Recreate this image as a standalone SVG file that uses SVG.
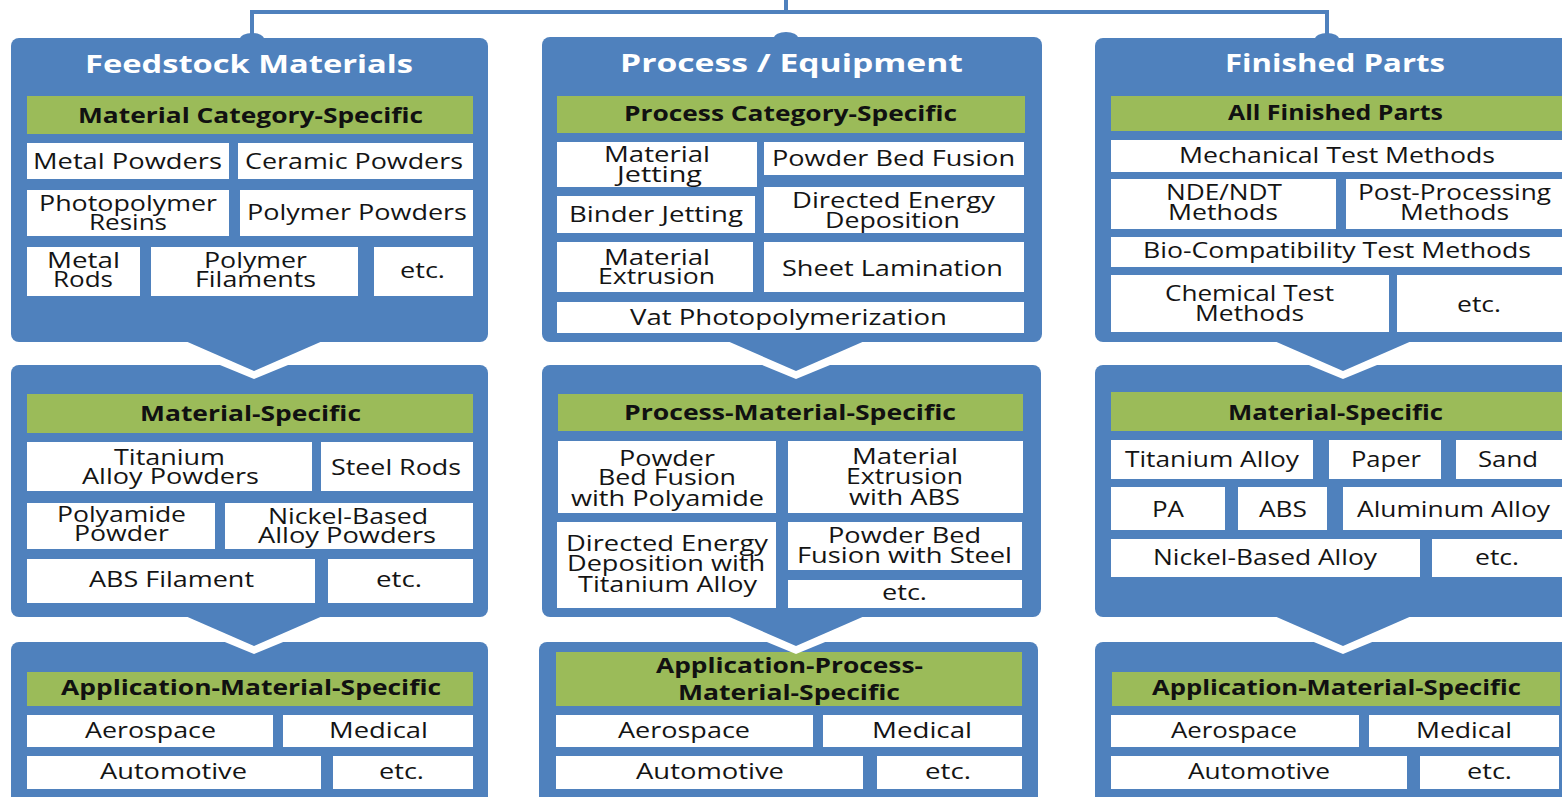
<svg xmlns="http://www.w3.org/2000/svg" width="1562" height="797" viewBox="0 0 1562 797">
<style>
.pn{fill:#4F81BD}
.hd{fill:#9BBB59}
.bx{fill:#FFFFFF}
.gap{fill:#FFFFFF}
.t{font-family:"Open Sans","DejaVu Sans",sans-serif;font-size:21px;fill:#141414}
.h{font-family:"Open Sans","DejaVu Sans",sans-serif;font-size:22px;font-weight:700;fill:#111111}
.ti{font-family:"Open Sans","DejaVu Sans",sans-serif;font-size:25px;font-weight:700;fill:#FFFFFF}
.ln{fill:none;stroke:#4F81BD;stroke-width:4}
</style>
<rect width="1562" height="797" fill="#FFFFFF"/>

<g id="connectors">
<path class="ln" d="M786,0 V12 M252,40 V12 H1327 V40"/>
<ellipse cx="252" cy="39" rx="12" ry="6" class="pn"/>
<ellipse cx="786" cy="38" rx="12" ry="6" class="pn"/>
<ellipse cx="1327" cy="39" rx="12" ry="6" class="pn"/>
</g>

<!-- Panel A1 -->
<g id="feedstock-category">
<rect class="pn" x="11" y="38" width="477" height="304" rx="8"/>
<text class="ti" x="85" y="73" textLength="328" lengthAdjust="spacingAndGlyphs">Feedstock Materials</text>
<rect class="hd" x="27" y="96" width="446" height="38"/>
<text class="h" x="78" y="123" textLength="345" lengthAdjust="spacingAndGlyphs">Material Category-Specific</text>
<rect class="bx" x="27" y="143" width="202" height="36"/>
<text class="t" x="33" y="169" textLength="189" lengthAdjust="spacingAndGlyphs">Metal Powders</text>
<rect class="bx" x="238" y="143" width="235" height="36"/>
<text class="t" x="245" y="169" textLength="218" lengthAdjust="spacingAndGlyphs">Ceramic Powders</text>
<rect class="bx" x="27" y="190" width="202" height="46"/>
<text class="t" x="39" y="211" textLength="178" lengthAdjust="spacingAndGlyphs">Photopolymer</text>
<text class="t" x="89" y="230" textLength="78" lengthAdjust="spacingAndGlyphs">Resins</text>
<rect class="bx" x="240" y="190" width="233" height="46"/>
<text class="t" x="247" y="220" textLength="220" lengthAdjust="spacingAndGlyphs">Polymer Powders</text>
<rect class="bx" x="27" y="247" width="113" height="49"/>
<text class="t" x="47" y="268" textLength="73" lengthAdjust="spacingAndGlyphs">Metal</text>
<text class="t" x="53" y="287" textLength="60" lengthAdjust="spacingAndGlyphs">Rods</text>
<rect class="bx" x="151" y="247" width="207" height="49"/>
<text class="t" x="204" y="268" textLength="103" lengthAdjust="spacingAndGlyphs">Polymer</text>
<text class="t" x="195" y="287" textLength="121" lengthAdjust="spacingAndGlyphs">Filaments</text>
<rect class="bx" x="374" y="247" width="99" height="49"/>
<text class="t" x="400" y="278" textLength="45" lengthAdjust="spacingAndGlyphs">etc.</text>
</g>

<!-- Panel B1 -->
<g id="process-category">
<rect class="pn" x="542" y="37" width="500" height="305" rx="8"/>
<text class="ti" x="620" y="72" textLength="343" lengthAdjust="spacingAndGlyphs">Process / Equipment</text>
<rect class="hd" x="557" y="96" width="468" height="37"/>
<text class="h" x="624" y="121" textLength="333" lengthAdjust="spacingAndGlyphs">Process Category-Specific</text>
<rect class="bx" x="557" y="142" width="200" height="45"/>
<text class="t" x="604" y="162" textLength="106" lengthAdjust="spacingAndGlyphs">Material</text>
<text class="t" x="617" y="182" textLength="85" lengthAdjust="spacingAndGlyphs">Jetting</text>
<rect class="bx" x="764" y="142" width="260" height="33"/>
<text class="t" x="772" y="166" textLength="243" lengthAdjust="spacingAndGlyphs">Powder Bed Fusion</text>
<rect class="bx" x="557" y="196" width="198" height="37"/>
<text class="t" x="569" y="222" textLength="174" lengthAdjust="spacingAndGlyphs">Binder Jetting</text>
<rect class="bx" x="764" y="187" width="260" height="46"/>
<text class="t" x="792" y="208" textLength="203" lengthAdjust="spacingAndGlyphs">Directed Energy</text>
<text class="t" x="825" y="228" textLength="135" lengthAdjust="spacingAndGlyphs">Deposition</text>
<rect class="bx" x="557" y="242" width="196" height="50"/>
<text class="t" x="604" y="265" textLength="106" lengthAdjust="spacingAndGlyphs">Material</text>
<text class="t" x="598" y="284" textLength="117" lengthAdjust="spacingAndGlyphs">Extrusion</text>
<rect class="bx" x="764" y="242" width="260" height="50"/>
<text class="t" x="782" y="276" textLength="221" lengthAdjust="spacingAndGlyphs">Sheet Lamination</text>
<rect class="bx" x="557" y="302" width="467" height="31"/>
<text class="t" x="630" y="325" textLength="317" lengthAdjust="spacingAndGlyphs">Vat Photopolymerization</text>
</g>

<!-- Panel C1 -->
<g id="finished-all">
<rect class="pn" x="1095" y="38" width="480" height="304" rx="8"/>
<text class="ti" x="1225" y="72" textLength="220" lengthAdjust="spacingAndGlyphs">Finished Parts</text>
<rect class="hd" x="1111" y="96" width="460" height="35"/>
<text class="h" x="1228" y="120" textLength="215" lengthAdjust="spacingAndGlyphs">All Finished Parts</text>
<rect class="bx" x="1111" y="140" width="460" height="32"/>
<text class="t" x="1179" y="163" textLength="316" lengthAdjust="spacingAndGlyphs">Mechanical Test Methods</text>
<rect class="bx" x="1111" y="179" width="225" height="50"/>
<text class="t" x="1166" y="200" textLength="116" lengthAdjust="spacingAndGlyphs">NDE/NDT</text>
<text class="t" x="1168" y="220" textLength="110" lengthAdjust="spacingAndGlyphs">Methods</text>
<rect class="bx" x="1346" y="179" width="225" height="50"/>
<text class="t" x="1358" y="200" textLength="193" lengthAdjust="spacingAndGlyphs">Post-Processing</text>
<text class="t" x="1400" y="220" textLength="109" lengthAdjust="spacingAndGlyphs">Methods</text>
<rect class="bx" x="1111" y="237" width="460" height="30"/>
<text class="t" x="1143" y="258" textLength="388" lengthAdjust="spacingAndGlyphs">Bio-Compatibility Test Methods</text>
<rect class="bx" x="1111" y="275" width="278" height="57"/>
<text class="t" x="1165" y="301" textLength="169" lengthAdjust="spacingAndGlyphs">Chemical Test</text>
<text class="t" x="1195" y="321" textLength="109" lengthAdjust="spacingAndGlyphs">Methods</text>
<rect class="bx" x="1397" y="275" width="175" height="57"/>
<text class="t" x="1457" y="312" textLength="44" lengthAdjust="spacingAndGlyphs">etc.</text>
</g>

<!-- Panel A2 -->
<g id="feedstock-material">
<rect class="pn" x="11" y="365" width="477" height="252" rx="8"/>
<rect class="hd" x="27" y="394" width="446" height="39"/>
<text class="h" x="140" y="421" textLength="221" lengthAdjust="spacingAndGlyphs">Material-Specific</text>
<rect class="bx" x="27" y="442" width="285" height="49"/>
<text class="t" x="114" y="465" textLength="111" lengthAdjust="spacingAndGlyphs">Titanium</text>
<text class="t" x="82" y="484" textLength="177" lengthAdjust="spacingAndGlyphs">Alloy Powders</text>
<rect class="bx" x="321" y="442" width="152" height="49"/>
<text class="t" x="331" y="475" textLength="130" lengthAdjust="spacingAndGlyphs">Steel Rods</text>
<rect class="bx" x="27" y="503" width="188" height="46"/>
<text class="t" x="57" y="522" textLength="129" lengthAdjust="spacingAndGlyphs">Polyamide</text>
<text class="t" x="74" y="541" textLength="95" lengthAdjust="spacingAndGlyphs">Powder</text>
<rect class="bx" x="225" y="503" width="248" height="46"/>
<text class="t" x="268" y="524" textLength="160" lengthAdjust="spacingAndGlyphs">Nickel-Based</text>
<text class="t" x="258" y="543" textLength="178" lengthAdjust="spacingAndGlyphs">Alloy Powders</text>
<rect class="bx" x="27" y="559" width="288" height="44"/>
<text class="t" x="89" y="587" textLength="165" lengthAdjust="spacingAndGlyphs">ABS Filament</text>
<rect class="bx" x="328" y="559" width="145" height="44"/>
<text class="t" x="376" y="587" textLength="46" lengthAdjust="spacingAndGlyphs">etc.</text>
</g>

<!-- Panel B2 -->
<g id="process-material">
<rect class="pn" x="542" y="365" width="499" height="252" rx="8"/>
<rect class="hd" x="558" y="394" width="465" height="37"/>
<text class="h" x="624" y="420" textLength="332" lengthAdjust="spacingAndGlyphs">Process-Material-Specific</text>
<rect class="bx" x="558" y="441" width="218" height="72"/>
<text class="t" x="619" y="466" textLength="96" lengthAdjust="spacingAndGlyphs">Powder</text>
<text class="t" x="598" y="485" textLength="138" lengthAdjust="spacingAndGlyphs">Bed Fusion</text>
<text class="t" x="571" y="506" textLength="193" lengthAdjust="spacingAndGlyphs">with Polyamide</text>
<rect class="bx" x="788" y="441" width="235" height="72"/>
<text class="t" x="852" y="464" textLength="106" lengthAdjust="spacingAndGlyphs">Material</text>
<text class="t" x="846" y="484" textLength="117" lengthAdjust="spacingAndGlyphs">Extrusion</text>
<text class="t" x="849" y="505" textLength="111" lengthAdjust="spacingAndGlyphs">with ABS</text>
<rect class="bx" x="557" y="522" width="219" height="86"/>
<text class="t" x="566" y="551" textLength="202" lengthAdjust="spacingAndGlyphs">Directed Energy</text>
<text class="t" x="567" y="571" textLength="198" lengthAdjust="spacingAndGlyphs">Deposition with</text>
<text class="t" x="578" y="592" textLength="179" lengthAdjust="spacingAndGlyphs">Titanium Alloy</text>
<rect class="bx" x="788" y="522" width="234" height="48"/>
<text class="t" x="828" y="543" textLength="153" lengthAdjust="spacingAndGlyphs">Powder Bed</text>
<text class="t" x="797" y="563" textLength="215" lengthAdjust="spacingAndGlyphs">Fusion with Steel</text>
<rect class="bx" x="788" y="580" width="234" height="28"/>
<text class="t" x="882" y="600" textLength="45" lengthAdjust="spacingAndGlyphs">etc.</text>
</g>

<!-- Panel C2 -->
<g id="finished-material">
<rect class="pn" x="1095" y="365" width="480" height="252" rx="8"/>
<rect class="hd" x="1111" y="392" width="460" height="39"/>
<text class="h" x="1228" y="420" textLength="215" lengthAdjust="spacingAndGlyphs">Material-Specific</text>
<rect class="bx" x="1111" y="440" width="202" height="39"/>
<text class="t" x="1125" y="467" textLength="174" lengthAdjust="spacingAndGlyphs">Titanium Alloy</text>
<rect class="bx" x="1329" y="440" width="112" height="39"/>
<text class="t" x="1351" y="467" textLength="70" lengthAdjust="spacingAndGlyphs">Paper</text>
<rect class="bx" x="1456" y="440" width="120" height="39"/>
<text class="t" x="1478" y="467" textLength="60" lengthAdjust="spacingAndGlyphs">Sand</text>
<rect class="bx" x="1111" y="487" width="114" height="43"/>
<text class="t" x="1152" y="517" textLength="32" lengthAdjust="spacingAndGlyphs">PA</text>
<rect class="bx" x="1238" y="487" width="89" height="43"/>
<text class="t" x="1259" y="517" textLength="48" lengthAdjust="spacingAndGlyphs">ABS</text>
<rect class="bx" x="1343" y="487" width="233" height="43"/>
<text class="t" x="1357" y="517" textLength="193" lengthAdjust="spacingAndGlyphs">Aluminum Alloy</text>
<rect class="bx" x="1111" y="539" width="309" height="38"/>
<text class="t" x="1153" y="565" textLength="224" lengthAdjust="spacingAndGlyphs">Nickel-Based Alloy</text>
<rect class="bx" x="1432" y="539" width="144" height="38"/>
<text class="t" x="1475" y="565" textLength="44" lengthAdjust="spacingAndGlyphs">etc.</text>
</g>

<!-- Panel A3 -->
<g id="feedstock-application">
<rect class="pn" x="11" y="642" width="477" height="170" rx="8"/>
<rect class="hd" x="27" y="672" width="446" height="34"/>
<text class="h" x="61" y="695" textLength="380" lengthAdjust="spacingAndGlyphs">Application-Material-Specific</text>
<rect class="bx" x="27" y="715" width="246" height="32"/>
<text class="t" x="85" y="738" textLength="131" lengthAdjust="spacingAndGlyphs">Aerospace</text>
<rect class="bx" x="283" y="715" width="190" height="32"/>
<text class="t" x="329" y="738" textLength="99" lengthAdjust="spacingAndGlyphs">Medical</text>
<rect class="bx" x="27" y="756" width="294" height="33"/>
<text class="t" x="100" y="779" textLength="147" lengthAdjust="spacingAndGlyphs">Automotive</text>
<rect class="bx" x="333" y="756" width="140" height="33"/>
<text class="t" x="379" y="779" textLength="45" lengthAdjust="spacingAndGlyphs">etc.</text>
</g>

<!-- Panel B3 -->
<g id="process-application">
<rect class="pn" x="539" y="642" width="499" height="170" rx="8"/>
<rect class="hd" x="556" y="652" width="466" height="54"/>
<text class="h" x="656" y="673" textLength="267" lengthAdjust="spacingAndGlyphs">Application-Process-</text>
<text class="h" x="678" y="700" textLength="222" lengthAdjust="spacingAndGlyphs">Material-Specific</text>
<rect class="bx" x="556" y="715" width="257" height="32"/>
<text class="t" x="618" y="738" textLength="132" lengthAdjust="spacingAndGlyphs">Aerospace</text>
<rect class="bx" x="823" y="715" width="199" height="32"/>
<text class="t" x="872" y="738" textLength="100" lengthAdjust="spacingAndGlyphs">Medical</text>
<rect class="bx" x="556" y="756" width="307" height="33"/>
<text class="t" x="636" y="779" textLength="148" lengthAdjust="spacingAndGlyphs">Automotive</text>
<rect class="bx" x="877" y="756" width="145" height="33"/>
<text class="t" x="925" y="779" textLength="46" lengthAdjust="spacingAndGlyphs">etc.</text>
</g>

<!-- Panel C3 -->
<g id="finished-application">
<rect class="pn" x="1095" y="642" width="480" height="170" rx="8"/>
<rect class="hd" x="1112" y="672" width="448" height="34"/>
<text class="h" x="1152" y="695" textLength="369" lengthAdjust="spacingAndGlyphs">Application-Material-Specific</text>
<rect class="bx" x="1111" y="715" width="248" height="32"/>
<text class="t" x="1171" y="738" textLength="126" lengthAdjust="spacingAndGlyphs">Aerospace</text>
<rect class="bx" x="1369" y="715" width="190" height="32"/>
<text class="t" x="1416" y="738" textLength="96" lengthAdjust="spacingAndGlyphs">Medical</text>
<rect class="bx" x="1111" y="756" width="296" height="33"/>
<text class="t" x="1188" y="779" textLength="142" lengthAdjust="spacingAndGlyphs">Automotive</text>
<rect class="bx" x="1420" y="756" width="139" height="33"/>
<text class="t" x="1467" y="779" textLength="45" lengthAdjust="spacingAndGlyphs">etc.</text>
</g>

<!-- chevron arrows between tiers -->
<g id="chevrons">
<defs>
<g id="chev">
<polygon class="gap" points="-90,0 0,37 90,0"/>
<polygon class="pn" points="-71,-2 0,29 71,-2"/>
</g>
</defs>
<use href="#chev" x="254" y="342"/>
<use href="#chev" x="796" y="342"/>
<use href="#chev" x="1343" y="342"/>
<use href="#chev" x="254" y="617"/>
<use href="#chev" x="796" y="617"/>
<use href="#chev" x="1343" y="617"/>
</g>
</svg>
